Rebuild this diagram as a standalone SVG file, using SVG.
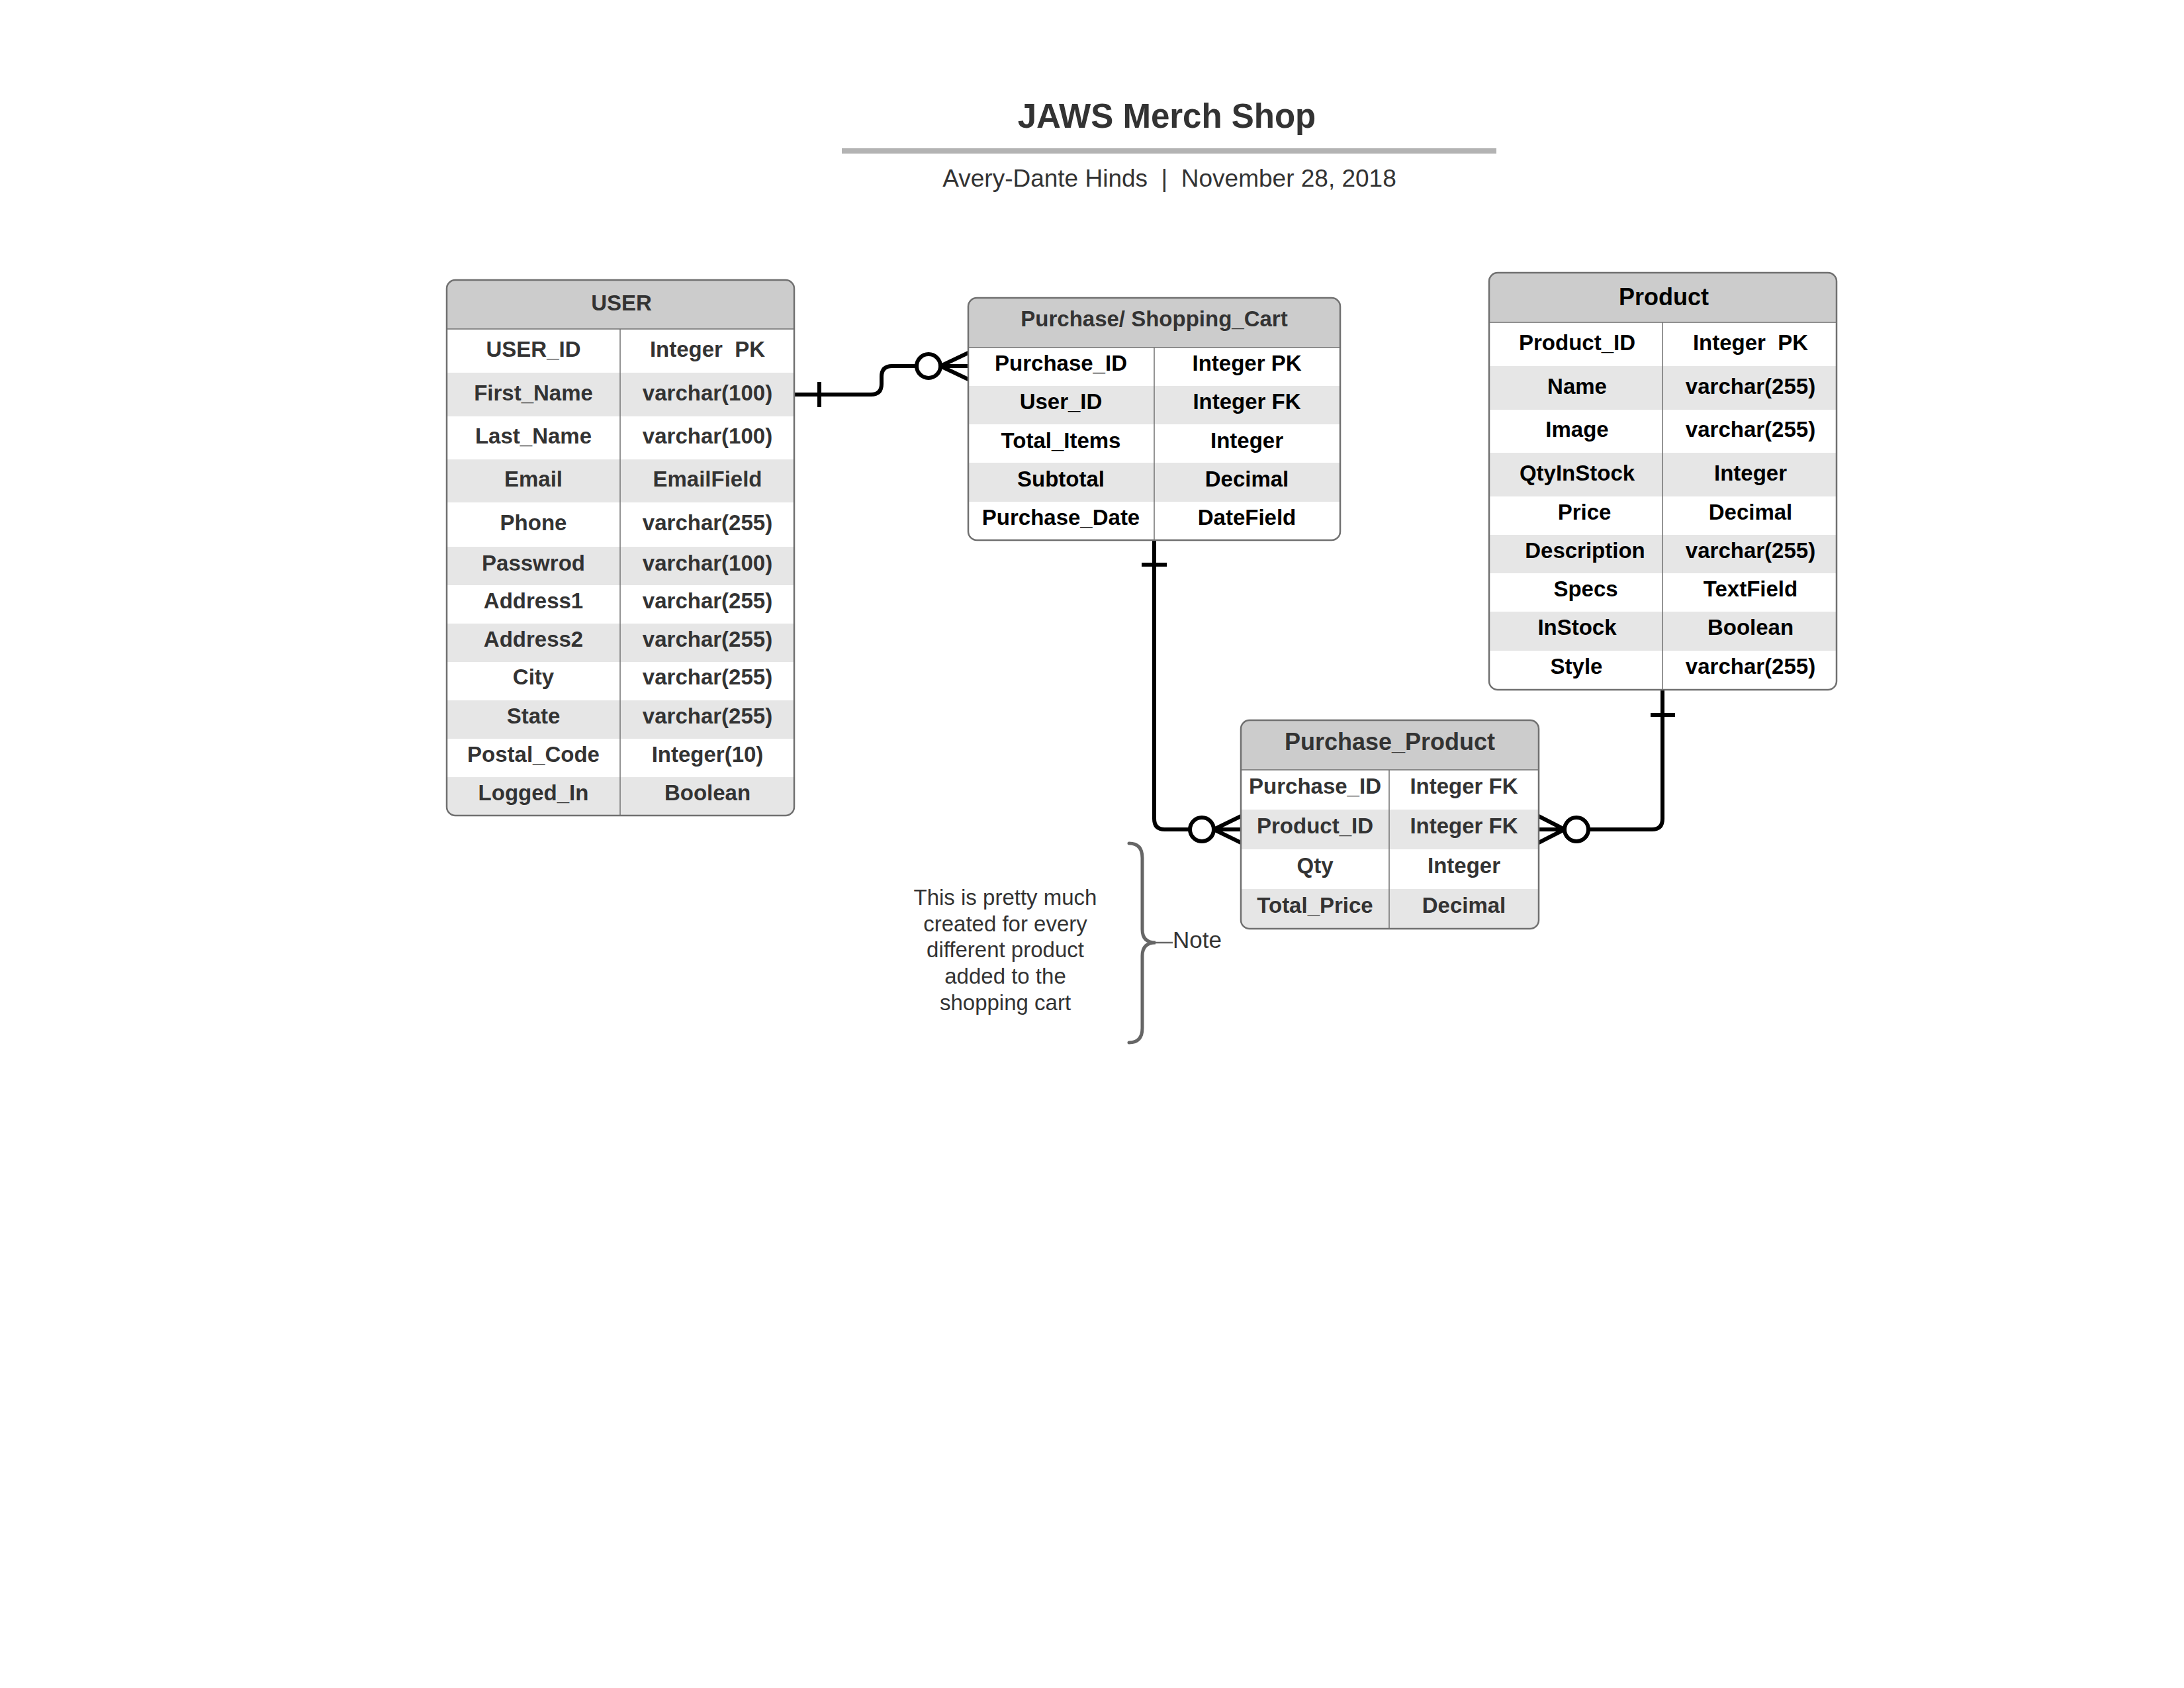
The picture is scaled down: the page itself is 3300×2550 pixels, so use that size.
<svg xmlns="http://www.w3.org/2000/svg" width="3300" height="2550" viewBox="0 0 3300 2550">
<style>
.bg{fill:#fff}
.hdr{fill:#ccc}
.alt{fill:#e6e6e6}
.wht{fill:#fff}
.frame{fill:none;stroke:#707070;stroke-width:2.5}
.div{stroke:#707070;stroke-width:1.5;fill:none}
.t{font-family:"Liberation Sans",Arial,sans-serif;font-weight:bold;font-size:33px;text-anchor:middle}
.h36{font-size:36px}
.dk{fill:#333}
.bk{fill:#000}
.reg{font-family:"Liberation Sans",Arial,sans-serif;fill:#333;text-anchor:middle}
.conn{fill:none;stroke:#000;stroke-width:6;stroke-linejoin:round}
.circ{fill:#fff;stroke:#000;stroke-width:6}
.brace{fill:none;stroke:#666;stroke-width:5;stroke-linecap:round}
</style>
<defs>
<clipPath id="clip-user"><rect x="675" y="423" width="525" height="809" rx="13"/></clipPath>
<clipPath id="clip-cart"><rect x="1463" y="450" width="562" height="366" rx="13"/></clipPath>
<clipPath id="clip-product"><rect x="2250" y="412" width="525" height="630" rx="13"/></clipPath>
<clipPath id="clip-pp"><rect x="1875" y="1088" width="450" height="315" rx="13"/></clipPath>
</defs>
<rect class="bg" x="0" y="0" width="3300" height="2550"/>

<g id="title">
<text class="reg" x="1763" y="193" font-size="51" font-weight="bold">JAWS Merch Shop</text>
<rect x="1272" y="224" width="989" height="8" fill="#b3b3b3"/>
<text class="reg" x="1767" y="282" font-size="37" xml:space="preserve">Avery-Dante Hinds  |  November 28, 2018</text>
</g>

<g id="connectors">
<path class="conn" d="M1201,596 H1316 Q1332,596 1332,580 V569 Q1332,553 1348,553 H1385"/>
<path class="conn" d="M1238,577 V615"/>
<circle class="circ" cx="1403" cy="553" r="18"/>
<path class="conn" d="M1463,533 L1421,553 L1463,573 M1421,553 H1463"/>

<path class="conn" d="M1744,816 V1237 Q1744,1253 1760,1253 H1798"/>
<path class="conn" d="M1725,853 H1763"/>
<circle class="circ" cx="1816" cy="1253" r="18"/>
<path class="conn" d="M1875,1233 L1834,1253 L1875,1273 M1834,1253 H1875"/>

<path class="conn" d="M2512,1042 V1237 Q2512,1253 2496,1253 H2400"/>
<path class="conn" d="M2494,1080 H2531"/>
<circle class="circ" cx="2382" cy="1253" r="18"/>
<path class="conn" d="M2325,1233 L2364,1253 L2325,1273 M2364,1253 H2325"/>
</g>

<g id="user">
<g clip-path="url(#clip-user)">
<rect class="wht" x="675" y="423" width="525" height="809"/>
<rect class="hdr" x="675" y="423" width="525" height="74"/>
<rect class="alt" x="675" y="563" width="525" height="66"/>
<rect class="alt" x="675" y="694" width="525" height="65"/>
<rect class="alt" x="675" y="826" width="525" height="58"/>
<rect class="alt" x="675" y="942" width="525" height="58"/>
<rect class="alt" x="675" y="1058" width="525" height="58"/>
<rect class="alt" x="675" y="1174" width="525" height="58"/>
</g>
<line class="div" x1="675" y1="497" x2="1200" y2="497"/>
<line class="div" x1="937" y1="497" x2="937" y2="1232"/>
<rect class="frame" x="675" y="423" width="525" height="809" rx="13"/>
<text class="t dk" x="939" y="469">USER</text>
<g class="t dk">
<text x="806" y="539">USER_ID</text><text x="1069" y="539" xml:space="preserve">Integer  PK</text>
<text x="806" y="605">First_Name</text><text x="1069" y="605">varchar(100)</text>
<text x="806" y="670">Last_Name</text><text x="1069" y="670">varchar(100)</text>
<text x="806" y="735">Email</text><text x="1069" y="735">EmailField</text>
<text x="806" y="801">Phone</text><text x="1069" y="801">varchar(255)</text>
<text x="806" y="862">Passwrod</text><text x="1069" y="862">varchar(100)</text>
<text x="806" y="919">Address1</text><text x="1069" y="919">varchar(255)</text>
<text x="806" y="977">Address2</text><text x="1069" y="977">varchar(255)</text>
<text x="806" y="1034">City</text><text x="1069" y="1034">varchar(255)</text>
<text x="806" y="1093">State</text><text x="1069" y="1093">varchar(255)</text>
<text x="806" y="1151">Postal_Code</text><text x="1069" y="1151">Integer(10)</text>
<text x="806" y="1209">Logged_In</text><text x="1069" y="1209">Boolean</text>
</g>
</g>

<g id="cart">
<g clip-path="url(#clip-cart)">
<rect class="wht" x="1463" y="450" width="562" height="366"/>
<rect class="hdr" x="1463" y="450" width="562" height="75"/>
<rect class="alt" x="1463" y="583" width="562" height="58"/>
<rect class="alt" x="1463" y="699" width="562" height="59"/>
</g>
<line class="div" x1="1463" y1="525" x2="2025" y2="525"/>
<line class="div" x1="1744" y1="525" x2="1744" y2="816"/>
<rect class="frame" x="1463" y="450" width="562" height="366" rx="13"/>
<text class="t dk" x="1744" y="493">Purchase/ Shopping_Cart</text>
<g class="t bk">
<text x="1603" y="560">Purchase_ID</text><text x="1884" y="560">Integer PK</text>
<text x="1603" y="618">User_ID</text><text x="1884" y="618">Integer FK</text>
<text x="1603" y="677">Total_Items</text><text x="1884" y="677">Integer</text>
<text x="1603" y="735">Subtotal</text><text x="1884" y="735">Decimal</text>
<text x="1603" y="793">Purchase_Date</text><text x="1884" y="793">DateField</text>
</g>
</g>

<g id="product">
<g clip-path="url(#clip-product)">
<rect class="wht" x="2250" y="412" width="525" height="630"/>
<rect class="hdr" x="2250" y="412" width="525" height="75"/>
<rect class="alt" x="2250" y="553" width="525" height="66"/>
<rect class="alt" x="2250" y="684" width="525" height="66"/>
<rect class="alt" x="2250" y="808" width="525" height="58"/>
<rect class="alt" x="2250" y="924" width="525" height="59"/>
</g>
<line class="div" x1="2250" y1="487" x2="2775" y2="487"/>
<line class="div" x1="2512" y1="487" x2="2512" y2="1042"/>
<rect class="frame" x="2250" y="412" width="525" height="630" rx="13"/>
<text class="t h36 bk" x="2514" y="461">Product</text>
<g class="t bk">
<text x="2383" y="529">Product_ID</text><text x="2645" y="529" xml:space="preserve">Integer  PK</text>
<text x="2383" y="595">Name</text><text x="2645" y="595">varchar(255)</text>
<text x="2383" y="660">Image</text><text x="2645" y="660">varchar(255)</text>
<text x="2383" y="726">QtyInStock</text><text x="2645" y="726">Integer</text>
<text x="2394" y="785">Price</text><text x="2645" y="785">Decimal</text>
<text x="2395" y="843">Description</text><text x="2645" y="843">varchar(255)</text>
<text x="2396" y="901">Specs</text><text x="2645" y="901">TextField</text>
<text x="2383" y="959">InStock</text><text x="2645" y="959">Boolean</text>
<text x="2382" y="1018">Style</text><text x="2645" y="1018">varchar(255)</text>
</g>
</g>

<g id="purchase_product">
<g clip-path="url(#clip-pp)">
<rect class="wht" x="1875" y="1088" width="450" height="315"/>
<rect class="hdr" x="1875" y="1088" width="450" height="75"/>
<rect class="alt" x="1875" y="1223" width="450" height="60"/>
<rect class="alt" x="1875" y="1343" width="450" height="60"/>
</g>
<line class="div" x1="1875" y1="1163" x2="2325" y2="1163"/>
<line class="div" x1="2099" y1="1163" x2="2099" y2="1403"/>
<rect class="frame" x="1875" y="1088" width="450" height="315" rx="13"/>
<text class="t h36 dk" x="2100" y="1133">Purchase_Product</text>
<g class="t dk">
<text x="1987" y="1199">Purchase_ID</text><text x="2212" y="1199">Integer FK</text>
<text x="1987" y="1259">Product_ID</text><text x="2212" y="1259">Integer FK</text>
<text x="1987" y="1319">Qty</text><text x="2212" y="1319">Integer</text>
<text x="1987" y="1379">Total_Price</text><text x="2212" y="1379">Decimal</text>
</g>
</g>

<g id="note">
<path class="brace" d="M1706,1274 Q1726,1274 1726,1296 V1404 Q1726,1424 1746,1424 Q1726,1424 1726,1444 V1553 Q1726,1575 1706,1575"/>
<line x1="1744" y1="1424" x2="1772" y2="1424" stroke="#666" stroke-width="2.5"/>
<text class="reg" x="1772" y="1432" font-size="35" style="text-anchor:start">Note</text>
<g class="reg" font-size="33">
<text x="1519" y="1367">This is pretty much</text>
<text x="1519" y="1407">created for every</text>
<text x="1519" y="1446">different product</text>
<text x="1519" y="1486">added to the</text>
<text x="1519" y="1526">shopping cart</text>
</g>
</g>
</svg>
